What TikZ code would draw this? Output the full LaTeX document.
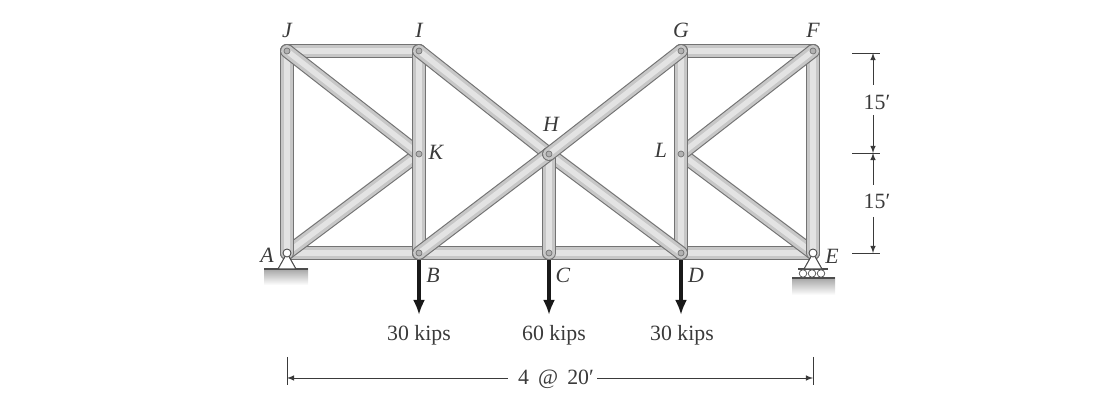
\documentclass[tikz,border=0pt]{standalone}
\usepackage{fontspec}
\setmainfont{Liberation Serif}
\usepackage{tikz}
\tikzset{>=latex}
\usetikzlibrary{arrows.meta,positioning}
\definecolor{ink}{HTML}{3A3A3A}
\tikzstyle{barout} = [line width=0.28cm, color=black!55, line cap=round]
\tikzstyle{barin} = [line width=0.235cm, color=black!22, line cap=round]
\tikzstyle{barmid} = [line width=0.11cm, color=black!11, line cap=round]
\tikzstyle{pin} = [circle, draw=black!55, fill=black!30, inner sep=0pt, minimum size=0.12cm]
\tikzstyle{pinopen} = [circle, draw=black!70, fill=white, line width=0.5pt, inner sep=0pt, minimum size=0.16cm]
\tikzstyle{joint} = [font=\fontsize{12.4}{15}\selectfont\itshape, text=ink, inner sep=0pt]
\tikzstyle{lbl} = [font=\fontsize{12.4}{15}\selectfont, text=ink, inner sep=0pt]
\tikzstyle{load} = [line width=0.07cm, color=black!90, shorten <=0.14cm, -{Latex[length=0.3cm,width=0.24cm]}]
\tikzstyle{dim} = [line width=0.4pt, color=ink]
\begin{document}
\begin{tikzpicture}[x=0.02cm,y=-0.02cm]
    \useasboundingbox (0,0) rectangle (1119,404);
    % joints
    \foreach \id/\px/\py in {J/287/51,I/419/51,G/681/51,F/813/51,K/419/154,H/549/154,L/681/154,A/287/253,B/419/253,C/549/253,D/681/253,E/813/253}
    {
        \coordinate (\id) at (\px, \py);
    }
    % members, in stacking order
    \foreach \a/\b in {J/I,G/F,A/B,B/C,C/D,D/E,A/K,E/L,A/J,E/F,J/K,F/L,I/B,G/D,I/H,H/D,C/H,B/H,H/G}
    {
        \draw [barout] (\a) -- (\b);
        \draw [barin] (\a) -- (\b);
        \draw [barmid] (\a) -- (\b);
    }
    \foreach \id in {J,I,G,F,K,H,L,B,C,D}
    {
        \node [pin](pin\id) at (\id) {};
    }
    % supports
    \shade [top color=black!35, bottom color=white] (264, 269) rectangle (308, 285);
    \draw [black!70, line width=0.6pt] (264, 269) -- (308, 269);
    \draw [black!70, line width=0.6pt, fill=white] (A) -- (278, 269) -- (296, 269) -- cycle;
    \node [pinopen](pinA) at (A) {};
    \shade [top color=black!35, bottom color=white] (792, 278) rectangle (835, 295);
    \draw [black!70, line width=0.6pt] (792, 278) -- (835, 278);
    \draw [black!70, line width=0.6pt] (798, 269) -- (828, 269);
    \draw [black!70, line width=0.6pt, fill=white] (E) -- (804, 269) -- (822, 269) -- cycle;
    \foreach \id/\px in {1/803,2/812,3/821}
    {
        \node [circle, draw=black!70, fill=white, inner sep=0pt, minimum size=0.15cm](r\id) at (\px, 273.5) {};
    }
    \node [pinopen](pinE) at (E) {};
    % joint labels
    \node [joint](lJ) at (287, 30) {J};
    \node [joint](lI) at (419, 30) {I};
    \node [joint](lG) at (681, 30) {G};
    \node [joint](lF) at (813, 30) {F};
    \node [joint](lH) at (551, 124) {H};
    \node [joint](lK) at (436, 152) {K};
    \node [joint](lL) at (661, 150) {L};
    \node [joint](lA) at (267, 255) {A};
    \node [joint](lB) at (433, 275) {B};
    \node [joint](lC) at (563, 275) {C};
    \node [joint](lD) at (696, 275) {D};
    \node [joint](lE) at (832, 256) {E};
    % loads
    \foreach \id/\val/\off in {B/30/0,C/60/5,D/30/1}
    {
        \coordinate (e\id) at ([yshift=-1.24cm]\id);
        \draw [load] (\id) -- (e\id);
        \node [lbl, below=0.2cm of e\id, xshift=\off*0.02cm](f\id) {\val{} kips};
    }
    % span
    \node [lbl](span) at (556, 379) {4\ \,@\ \,20′};
    \coordinate (sa) at (287, 378);
    \coordinate (sb) at (813, 378);
    \draw [dim, ->] (span.west |- sa) ++(-10, 0) -- (sa);
    \draw [dim, ->] (span.east |- sb) ++(3, 0) -- (sb);
    \draw [dim] (287, 357) -- (287, 385);
    \draw [dim] (813, 357) -- (813, 385);
    % heights
    \node [lbl](h1) at (877, 102) {15′};
    \node [lbl](h2) at (877, 201) {15′};
    \foreach \id/\px/\py in {ha/873/53,hb/873/153,hc/873/253,ga/873/85,gb/873/115,gc/873/185,gd/873/217}
    {
        \coordinate (\id) at (\px, \py);
    }
    \draw [dim, ->] (ga) -- (ha);
    \draw [dim, ->] (gb) -- (hb);
    \draw [dim, ->] (gc) -- (hb);
    \draw [dim, ->] (gd) -- (hc);
    \foreach \id in {ha,hb,hc}
    {
        \draw [dim] ([xshift=-0.42cm]\id) -- ([xshift=0.14cm]\id);
    }
\end{tikzpicture}
\end{document}
